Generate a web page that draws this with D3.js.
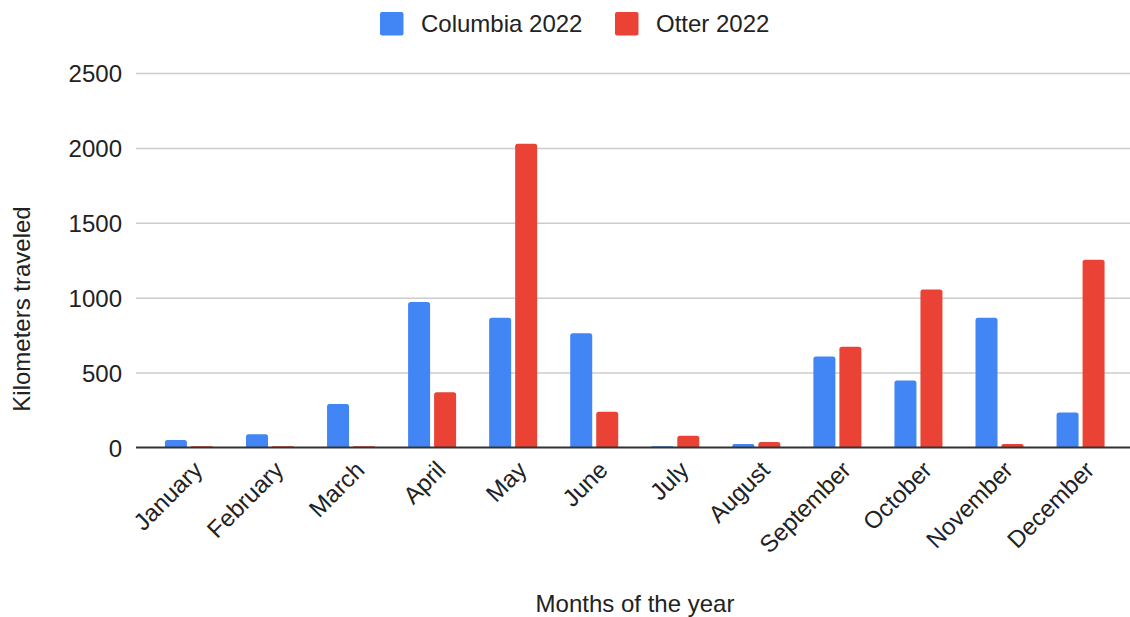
<!DOCTYPE html>
<html>
<head>
<meta charset="utf-8">
<script src="https://cdn.jsdelivr.net/npm/d3@7/dist/d3.min.js"></script>
<style>
  html, body { margin: 0; padding: 0; background: #fff; }
  svg { display: block; font-family: "Liberation Sans", Arial, sans-serif; }
</style>
</head>
<body>
<svg id="chart" width="1130" height="617"></svg>
<script>
const months = ["January","February","March","April","May","June","July","August","September","October","November","December"];
const seriesNames = ["Columbia 2022", "Otter 2022"];
const columbia = [50, 88, 290, 972, 866, 762, 8, 23, 607, 448, 866, 233];
const otter = [8, 8, 8, 368, 2028, 238, 79, 37, 673, 1055, 23, 1253];
const yTicks = [0, 500, 1000, 1500, 2000, 2500];
const colors = ["#4285F4", "#EA4335"];

const svg = d3.select("#chart");
const plotLeft = 136, plotRight = 1130;
const y = d3.scaleLinear().domain([0, 2500]).range([447.5, 73]);
const x0 = d3.scaleBand().domain(months).range([148.4, 1121.1]).padding(0);
const groupW = 48;
const x1 = d3.scaleBand().domain(seriesNames).range([0, groupW]).paddingInner(0.154);

// gridlines
const yAxis = d3.axisLeft(y).tickValues(yTicks).tickSize(-(plotRight - plotLeft)).tickPadding(14).tickFormat(d3.format("d"));
const gAxis = svg.append("g").attr("transform", `translate(${plotLeft},0)`).call(yAxis);
gAxis.select(".domain").remove();
gAxis.selectAll(".tick line").attr("stroke", "#cccccc").attr("stroke-width", 1.5);
gAxis.selectAll(".tick text").attr("font-size", 24).attr("fill", "#222").attr("font-family", "Liberation Sans, Arial, sans-serif").attr("dy", "0.36em");
gAxis.selectAll(".tick").filter(d => d === 0).select("line").attr("stroke", "transparent");

// bars
const data = months.map((m, i) => ({ month: m, values: [columbia[i], otter[i]] }));
function topRounded(x, yTop, w, yBase, r) {
  const h = yBase - yTop;
  const rr = Math.min(r, h / 2, w / 2);
  return `M${x},${yBase}V${yTop + rr}Q${x},${yTop} ${x + rr},${yTop}H${x + w - rr}Q${x + w},${yTop} ${x + w},${yTop + rr}V${yBase}Z`;
}
const groups = svg.append("g").selectAll("g").data(data).join("g")
  .attr("transform", d => `translate(${x0(d.month) + (x0.bandwidth() - groupW) / 2},0)`);
groups.selectAll("path").data(d => d.values.map((v, k) => ({ v, k })))
  .join("path")
  .attr("fill", d => colors[d.k])
  .attr("d", d => topRounded(x1(seriesNames[d.k]), y(d.v), x1.bandwidth(), y(0), 2.5));

// baseline
svg.append("line").attr("x1", plotLeft).attr("x2", plotRight).attr("y1", y(0)).attr("y2", y(0))
  .attr("stroke", "#333").attr("stroke-width", 2);

// x labels
const xAxis = d3.axisBottom(x0).tickSize(0).tickPadding(0);
const gx = svg.append("g").attr("transform", `translate(0,${y(0)})`).call(xAxis);
gx.select(".domain").remove();
gx.selectAll(".tick text")
  .attr("font-size", 24).attr("fill", "#222").attr("font-family", "Liberation Sans, Arial, sans-serif")
  .attr("text-anchor", "end").attr("dy", null).attr("y", 0)
  .attr("transform", "translate(15,24) rotate(-45)");

// axis titles
svg.append("text").attr("x", (plotLeft + plotRight) / 2 + 2).attr("y", 612).attr("text-anchor", "middle")
  .attr("font-size", 24).attr("fill", "#222").text("Months of the year");
svg.append("text").attr("transform", "translate(30,309) rotate(-90)").attr("text-anchor", "middle")
  .attr("font-size", 24).attr("fill", "#222").text("Kilometers traveled");

// legend
const legendItems = [{ name: seriesNames[0], sx: 380, tx: 421 }, { name: seriesNames[1], sx: 615, tx: 656 }];
const lg = svg.append("g");
legendItems.forEach((it, i) => {
  lg.append("rect").attr("x", it.sx).attr("y", 12).attr("width", 23.5).attr("height", 23.5).attr("rx", 2).attr("fill", colors[i]);
  lg.append("text").attr("x", it.tx).attr("y", 32).attr("font-size", 24).attr("fill", "#222").text(it.name);
});
</script>
</body>
</html>
